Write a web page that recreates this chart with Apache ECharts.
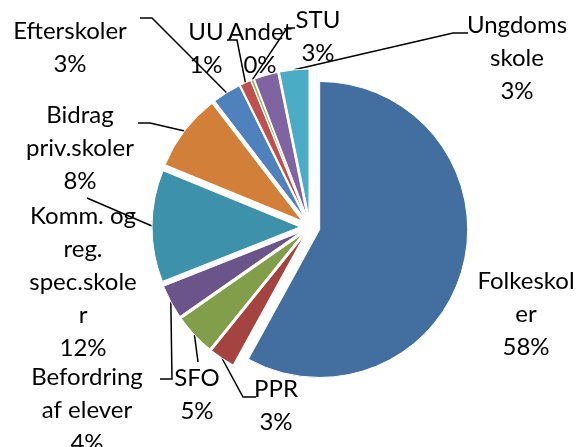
<!DOCTYPE html>
<html>
<head>
<meta charset="utf-8">
<script src="https://cdn.jsdelivr.net/npm/echarts@6/dist/echarts.min.js"></script>
<style>
  html, body {margin: 0; padding: 0; background: #fff;}
  #chart {width: 580px; height: 447px;}
</style>
</head>
<body>
<div id="chart"></div>
<script>
// kategorier og andele (pct.)
const categories = ['Folkeskoler', 'PPR', 'SFO', 'Befordring af elever', 'Komm. og reg. spec.skoler',
    'Bidrag priv.skoler', 'Efterskoler', 'UU', 'Andet', 'STU', 'Ungdomsskole']
const labelText = ['Folkeskol\ner', 'PPR', 'SFO', 'Befordring\naf elever', 'Komm. og\nreg.\nspec.skole\nr',
    'Bidrag\npriv.skoler', 'Efterskoler', 'UU', 'Andet', 'STU', 'Ungdoms\nskole']
const values = [58.0, 2.8, 4.5, 3.7, 12.2, 8.4, 3.1, 1.2, 0.3, 2.6, 3.2]
const colors = ['#436EA0', '#A4433F', '#829E4B', '#6B5489', '#3E91AA', '#D27F3A',
    '#4F81BD', '#C0504D', '#9BBB59', '#8064A2', '#4BACC6']

// label placement (center of each text block)
const labelPos = [
    [526, 314], [276, 406], [197, 395], [87, 410], [83, 282],
    [80, 148], [70, 48], [206, 49], [260, 49], [318, 37], [517, 58]
]
// leader line end relative to label center, and horizontal tail (0 = none); null = no line
const leader = [
    null, [-20, -9, -13], [1, -33, 0], [73, -31, 12], [4, -84, 0],
    [58, -25, 12], [70, -30, 12], [21, -9, 10], [35, -21, -8], null, [-49, -25, -15]
]

const explode = 10

// the exploded slices carry their labels along; work out that shift per slice
const total = values.reduce((s, v) => s + v, 0)
const shift = []
let acc = 0
values.forEach(v => {
    const a = (acc + v / 2) / total * Math.PI * 2
    shift.push([explode * Math.sin(a), -explode * Math.cos(a)])
    acc += v
})

const chart = echarts.init(document.getElementById('chart'), null, {renderer: 'canvas'})

const data = categories.map((name, i) => ({
    name: name,
    value: values[i],
    selected: true,
    itemStyle: {color: colors[i]},
    labelLine: {show: leader[i] !== null}
}))

chart.setOption({
    animation: false,
    series: [{
        type: 'pie',
        left: 0,
        top: 0,
        width: 1200,
        height: 447,
        center: [310, 227],
        radius: [0, 148],
        startAngle: 90,
        clockwise: true,
        selectedMode: 'multiple',
        selectedOffset: explode,
        avoidLabelOverlap: false,
        percentPrecision: 0,
        emphasis: {disabled: true},
        itemStyle: {borderColor: '#fff', borderWidth: 1},
        label: {
            show: true,
            position: 'outside',
            formatter: p => labelText[p.dataIndex] + '\n' + p.percent + '%',
            fontFamily: 'Lato',
            fontSize: 24,
            lineHeight: 33,
            color: '#000',
            overflow: 'none'
        },
        labelLine: {
            show: true,
            length: 12,
            length2: 12,
            lineStyle: {color: '#000', width: 1.5}
        },
        labelLayout: function (params) {
            const i = params.dataIndex
            const pos = [labelPos[i][0] - shift[i][0], labelPos[i][1] - shift[i][1]]
            const r = params.labelRect
            const a = params.align || (r.x + r.width / 2 < 310 ? 'right' : 'left')
            const anchorX = a === 'right' ? r.x + r.width : a === 'center' ? r.x + r.width / 2 : r.x
            const out = {
                align: 'center',
                dx: pos[0] - anchorX,
                dy: pos[1] - (r.y + r.height / 2)
            }
            const ld = leader[i]
            if (ld && params.labelLinePoints) {
                const start = params.labelLinePoints[0]
                const end = [pos[0] + ld[0], pos[1] + ld[1]]
                out.labelLinePoints = ld[2]
                    ? [start, [end[0] + ld[2], end[1]], end]
                    : [start, [(start[0] + end[0]) / 2, (start[1] + end[1]) / 2], end]
            }
            return out
        },
        data: data
    }]
})
</script>
</body>
</html>
